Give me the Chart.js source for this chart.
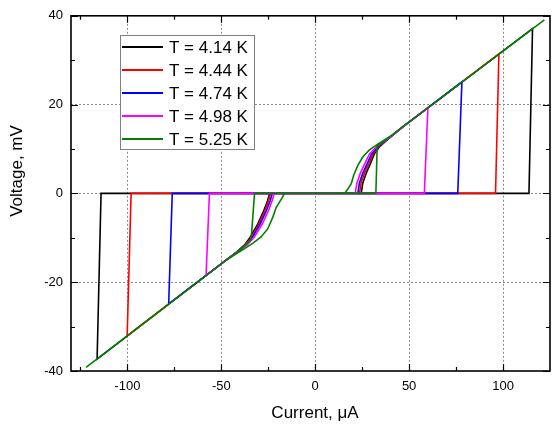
<!DOCTYPE html>
<html>
<head>
<meta charset="utf-8">
<script src="https://cdn.jsdelivr.net/npm/chart.js@4/dist/chart.umd.min.js"></script>
<style>
  html, body { margin: 0; padding: 0; background: #fff; }
  canvas { display: block; }
</style>
</head>
<body>
<canvas id="iv" width="557" height="429"></canvas>
<script>
// Temperatures of the measured I-V loops
const temperatures = ['4.14', '4.44', '4.74', '4.98', '5.25'];
const seriesColors = ['#000000', '#ff0000', '#0000ff', '#ff00ff', '#008000'];

// Each loop: 0 -> switching jump at +Ic, back down the resistive branch to
// retrapping, then switching jump at -Ic, back up to retrapping and 0.
// Current in µA, voltage in mV.
const current414 = [0, 113.8, 115.7, 46.6, 40, 34.2, 31.5, 29.4, 27.1, 25.3, 24.5,
                    -114.0, -116.1, -48.3, -42, -37.6, -34.5, -30.6, -27.4, -25.3, -24.3, 0];
const voltage414 = [0, 0, 37.1, 15.0, 12.7, 10.5, 8.9, 6.7, 4.5, 2.3, 0,
                    0, -37.3, -15.3, -13.3, -11.6, -9.8, -6.9, -3.9, -1.6, 0, 0];

const current444 = [0, 96.0, 97.8, 46.6, 40, 33.8, 30.8, 28.6, 26.2, 24.4, 23.6,
                    -98.0, -100.1, -48.3, -42, -37.2, -33.9, -30.0, -26.8, -24.8, -23.8, 0];
const voltage444 = [0, 0, 31.4, 15.0, 12.7, 10.5, 8.9, 6.7, 4.5, 2.3, 0,
                    0, -32.1, -15.3, -13.3, -11.6, -9.8, -6.9, -3.9, -1.6, 0, 0];

const current474 = [0, 75.9, 78.1, 46.6, 40, 33.3, 30.0, 27.7, 25.3, 23.5, 22.7,
                    -76.1, -78.0, -48.3, -42, -36.8, -33.3, -29.3, -26.0, -23.9, -22.9, 0];
const voltage474 = [0, 0, 25.1, 15.0, 12.7, 10.5, 8.9, 6.7, 4.5, 2.3, 0,
                    0, -24.9, -15.3, -13.3, -11.6, -9.8, -6.9, -3.9, -1.6, 0, 0];

const current498 = [0, 58.1, 60.0, 46.6, 40, 32.6, 28.9, 26.4, 24.0, 22.2, 21.3,
                    -56.3, -58.1, -48.3, -42, -36.2, -32.4, -28.2, -24.9, -22.9, -21.8, 0];
const voltage498 = [0, 0, 19.3, 15.0, 12.7, 10.5, 8.9, 6.7, 4.5, 2.3, 0,
                    0, -18.5, -15.3, -13.3, -11.6, -9.8, -6.9, -3.9, -1.6, 0, 0];

const current525 = [0, 32.3, 33.0, 46.6, 122, 46.6, 40, 33.3, 28.9, 25.3, 22.7, 20.5, 19.2, 17.4, 15.6,
                    -32.3, -34.1, -40, -48.3, -122, -48.3, -33.3, -28.8, -25.2, -22.6, -20.8, -18.1, -16.3, 0];
const voltage525 = [0, 0, 10.6, 15.0, 39.1, 15.0, 12.9, 11.1, 9.8, 8.2, 6.3, 4.1, 2.2, 1.0, 0,
                    0, -10.4, -12.7, -15.3, -39.2, -15.3, -11.25, -9.8, -7.95, -5.4, -3.2, -1.35, 0, 0];

const currents = [current414, current444, current474, current498, current525];
const voltages = [voltage414, voltage444, voltage474, voltage498, voltage525];

// Axis ticks
const xMajorTicks = [-100, -50, 0, 50, 100];
const xMinorTicks = [-125, -75, -25, 25, 75, 125];
const yMajorTicks = [-40, -20, 0, 20, 40];
const yMinorTicks = [-30, -10, 10, 30];

const FONT = '"Liberation Sans", Arial, Helvetica, sans-serif';
Chart.defaults.font.family = FONT;
Chart.defaults.color = '#000';

const datasets = temperatures.map((t, i) => ({
  label: 'T = ' + t + ' K',
  data: currents[i].map((c, k) => ({ x: c, y: voltages[i][k] })),
  borderColor: seriesColors[i],
  backgroundColor: seriesColors[i],
  borderWidth: 1.6,
  pointRadius: 0,
  showLine: true,
  tension: 0,
  fill: false,
  order: temperatures.length - i   // hottest loop drawn on top
}));

// Frame and inward tick marks on all four sides
const framePlugin = {
  id: 'frame',
  afterDatasetsDraw(chart) {
    const { ctx, chartArea: a, scales: { x, y } } = chart;
    ctx.save();
    ctx.strokeStyle = '#000';
    ctx.lineWidth = 1.2;
    ctx.beginPath();
    const vTicks = (vals, len) => vals.forEach(v => {
      const px = Math.round(x.getPixelForValue(v)) + 0.5;
      if (px < a.left || px > a.right) return;
      ctx.moveTo(px, a.bottom); ctx.lineTo(px, a.bottom - len);
      ctx.moveTo(px, a.top); ctx.lineTo(px, a.top + len);
    });
    const hTicks = (vals, len) => vals.forEach(v => {
      const py = Math.round(y.getPixelForValue(v)) + 0.5;
      ctx.moveTo(a.left, py); ctx.lineTo(a.left + len, py);
      ctx.moveTo(a.right, py); ctx.lineTo(a.right - len, py);
    });
    vTicks(xMajorTicks, 7); vTicks(xMinorTicks, 4);
    hTicks(yMajorTicks, 7); hTicks(yMinorTicks, 4);
    ctx.stroke();
    ctx.lineWidth = 1.6;
    ctx.strokeRect(a.left, a.top, a.right - a.left, a.bottom - a.top);
    ctx.restore();
  }
};

// Axis titles
const titlePlugin = {
  id: 'axisTitles',
  afterDraw(chart) {
    const { ctx } = chart;
    ctx.save();
    ctx.fillStyle = '#000';
    ctx.font = '17px ' + FONT;
    ctx.textAlign = 'center';
    ctx.textBaseline = 'middle';
    ctx.fillText('Current, \u03bcA', 315, 413);
    ctx.translate(17, 171);
    ctx.rotate(-Math.PI / 2);
    ctx.fillText('Voltage, mV', 0, 0);
    ctx.restore();
  }
};

// Boxed legend inside the plot
const legendPlugin = {
  id: 'boxLegend',
  afterDraw(chart) {
    const { ctx } = chart;
    const bx = 120.5, by = 35.5, bw = 134, bh = 114;
    ctx.save();
    ctx.fillStyle = '#fff';
    ctx.fillRect(bx, by, bw, bh);
    ctx.strokeStyle = '#808080';
    ctx.lineWidth = 1;
    ctx.strokeRect(bx, by, bw, bh);
    ctx.font = '17px ' + FONT;
    ctx.textBaseline = 'middle';
    ctx.textAlign = 'left';
    chart.data.datasets.forEach((ds, i) => {
      const ry = 47 + i * 23;
      ctx.strokeStyle = ds.borderColor;
      ctx.lineWidth = 2;
      ctx.beginPath();
      ctx.moveTo(122, ry); ctx.lineTo(163, ry);
      ctx.stroke();
      ctx.fillStyle = '#000';
      ctx.fillText(ds.label, 169, ry + 1);
    });
    ctx.restore();
  }
};

const gridColor = (lo, hi) => c =>
  (c.tick && (c.tick.value <= lo || c.tick.value >= hi)) ? 'rgba(0,0,0,0)' : '#8a8a8a';

new Chart(document.getElementById('iv'), {
  type: 'scatter',
  data: { datasets },
  options: {
    responsive: false,
    animation: false,
    devicePixelRatio: 1,
    layout: { padding: { left: 0, right: 7, top: 7, bottom: 0 } },
    plugins: { legend: { display: false }, tooltip: { enabled: false } },
    scales: {
      x: {
        type: 'linear',
        min: -130,
        max: 125,
        afterBuildTicks: s => { s.ticks = xMajorTicks.map(v => ({ value: v })); },
        afterFit: s => { s.height = 58; },
        ticks: { font: { size: 13 }, color: '#000', padding: 8, callback: v => String(v) },
        grid: { drawTicks: false, color: gridColor(-130, 125), lineWidth: 1 },
        border: { display: false, dash: [2, 2] }
      },
      y: {
        type: 'linear',
        min: -40,
        max: 40,
        afterBuildTicks: s => { s.ticks = yMajorTicks.map(v => ({ value: v })); },
        afterFit: s => { s.width = 71; },
        ticks: { font: { size: 13 }, color: '#000', padding: 8, callback: v => String(v) },
        grid: { drawTicks: false, color: gridColor(-40, 40), lineWidth: 1 },
        border: { display: false, dash: [2, 2] }
      }
    }
  },
  plugins: [framePlugin, titlePlugin, legendPlugin]
});
</script>
</body>
</html>
